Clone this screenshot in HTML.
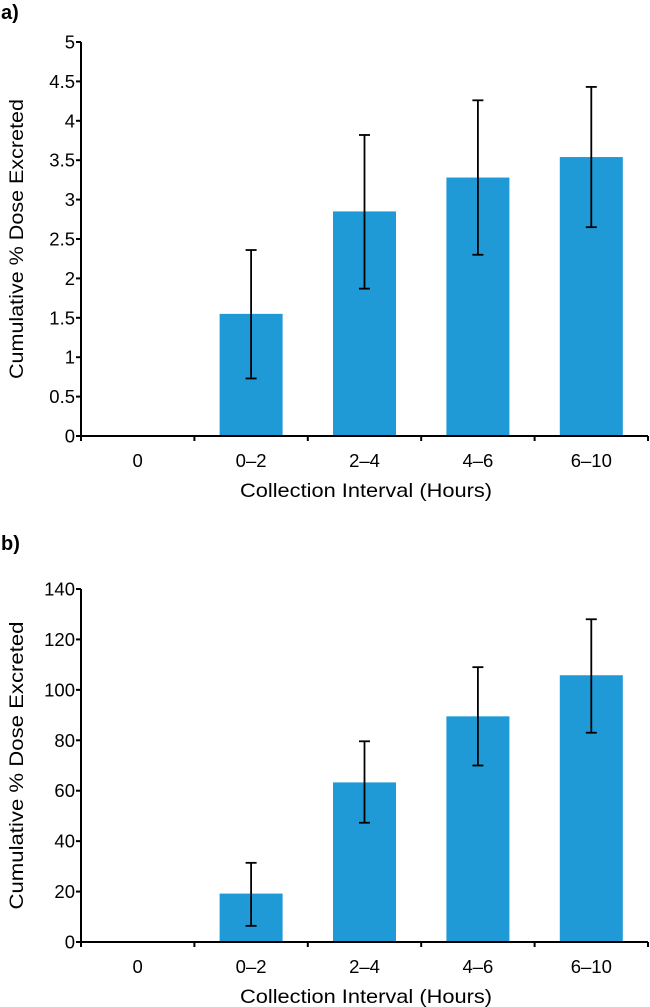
<!DOCTYPE html>
<html><head><meta charset="utf-8"><style>
html,body{margin:0;padding:0;background:#fff;width:650px;height:1007px;overflow:hidden}
svg{display:block;font-family:"Liberation Sans",Arial,sans-serif}
</style></head><body>
<svg id="svg" width="650" height="1007"></svg>
<script>
const categories = ["0","0–2","2–4","4–6","6–10"];
const valuesA = [0,1.55,2.85,3.28,3.54];
const errHighA = [null,2.36,3.82,4.26,4.43];
const errLowA = [null,0.73,1.87,2.30,2.65];
const ticksA = ["0","0.5","1","1.5","2","2.5","3","3.5","4","4.5","5"];
const valuesB = [0,19.2,63.3,89.5,105.8];
const errHighB = [null,31.4,79.6,109,128];
const errLowB = [null,6.4,47.3,70,83];
const ticksB = ["0","20","40","60","80","100","120","140"];

const NS="http://www.w3.org/2000/svg";
const svg=document.getElementById('svg');
function mk(tag,attrs,parent,text){const e=document.createElementNS(NS,tag);for(const k in attrs)e.setAttribute(k,attrs[k]);if(text!==undefined)e.textContent=text;(parent||svg).appendChild(e);return e;}

function chart(cfg){
  const g=mk('g',{});
  
  
  const x0=81,x1=648,y0=cfg.y0,y1=cfg.y1,max=cfg.max;
  const cw=(x1-x0)/categories.length;
  const ys=v=>y0-(v/max)*(y0-y1);
  const xc=i=>x0+cw*(i+0.5);
  const pl=mk('text',{x:1,y:cfg.panelY,'font-size':20,'font-weight':'bold',fill:'#000'},g,cfg.panel);
  
  
  cfg.values.forEach((v,i)=>{
    if(v>0){
      const r=mk('rect',{x:xc(i)-31.5,y:ys(v),width:63,height:y0-ys(v),fill:'#1f9ad6'},g);
      
      
    }
    if(cfg.hi[i]!==null){
      const eg=mk('g',{stroke:'#000','stroke-width':1.8},g);
      
      
      const x=xc(i);
      mk('line',{x1:x,x2:x,y1:ys(cfg.hi[i]),y2:ys(cfg.lo[i])},eg);
      mk('line',{x1:x-5.5,x2:x+5.5,y1:ys(cfg.hi[i]),y2:ys(cfg.hi[i])},eg);
      mk('line',{x1:x-5.5,x2:x+5.5,y1:ys(cfg.lo[i]),y2:ys(cfg.lo[i])},eg);
    }
  });
  const ax=mk('g',{stroke:'#000','stroke-width':2},g);
  
  
  mk('line',{x1:x0,x2:x0,y1:y1,y2:y0+5},ax);
  mk('line',{x1:x0-1,x2:x1,y1:y0,y2:y0},ax);
  for(let i=1;i<=categories.length;i++){mk('line',{x1:x0+cw*i,x2:x0+cw*i,y1:y0,y2:y0+5},ax);}
  cfg.ticks.forEach(t=>{
    const y=ys(parseFloat(t));
    mk('line',{x1:x0-5,x2:x0,y1:y,y2:y},ax);
    const tl=mk('text',{x:x0-6,y:y+6.5,'font-size':18.5,'text-anchor':'end',fill:'#000'},g,t);
    
    
  });
  categories.forEach((c,i)=>{
    const tl=mk('text',{x:xc(i),y:y0+31,'font-size':18.5,'text-anchor':'middle',fill:'#000'},g,c);
    
    
  });
  const xt=mk('text',{x:366,y:y0+61,'font-size':19.5,'text-anchor':'middle',fill:'#000',textLength:252,lengthAdjust:'spacingAndGlyphs'},g,'Collection Interval (Hours)');
  
  
  const cy=(y0+y1)/2;
  const yt=mk('text',{x:0,y:0,'font-size':19.5,'text-anchor':'middle',fill:'#000',textLength:cfg.tl,lengthAdjust:'spacingAndGlyphs',transform:'translate(23,'+cy+') rotate(-90)'},g,cfg.ytitle);
  
  
}
chart({name:'chart-a',panel:'a)',panelY:19,y0:436,y1:42,max:5,values:valuesA,hi:errHighA,lo:errLowA,ticks:ticksA,ytitle:'Cumulative % Dose Excreted',tl:280});
chart({name:'chart-b',panel:'b)',panelY:550,y0:942,y1:589,max:140,values:valuesB,hi:errHighB,lo:errLowB,ticks:ticksB,ytitle:'Cumulative % Dose  Excreted',tl:288});
</script>
</body></html>
